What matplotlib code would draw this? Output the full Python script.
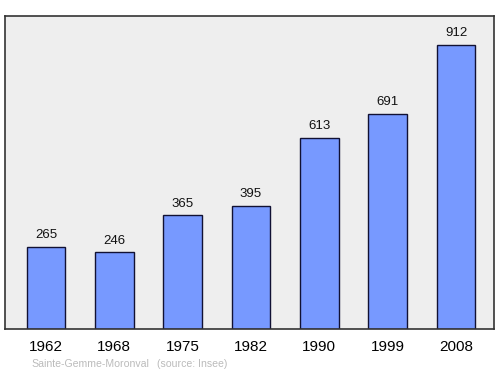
import matplotlib
matplotlib.use("Agg")
import matplotlib.pyplot as plt

years = ["1962", "1968", "1975", "1982", "1990", "1999", "2008"]
population = [265, 246, 365, 395, 613, 691, 912]
source_name = "Sainte-Gemme-Moronval"
source_note = "(source: Insee)"

plt.rcParams['font.family'] = ['Liberation Sans', 'DejaVu Sans']

fig = plt.figure(figsize=(5.0, 3.74), dpi=100)
W, H = 500, 374
ax = fig.add_axes([5 / W, 1 - 329 / H, 489 / W, 313 / H])
ax.set_facecolor('#eeeeee')
x = list(range(len(years)))
ax.bar(x, population, width=0.57, color='#7799ff', edgecolor='#111133', linewidth=1.0, zorder=2)
for xi, v in zip(x, population):
    ax.text(xi, v + 19, str(v), ha='center', va='bottom', fontsize=9.5, color='#111111')
ax.set_xlim(-0.6, 6.556)
ax.set_ylim(0, 1006)
ax.set_yticks([])
ax.set_xticks(x)
ax.set_xticklabels(years, fontsize=11)
ax.tick_params(axis='x', length=0, pad=8)
for s in ax.spines.values():
    s.set_color('#333333')
    s.set_linewidth(1.2)

fig.text(31 / W, 1 - 364 / H, source_name, fontsize=7.6, color='#bbbbbb', va='center')
fig.text(157 / W, 1 - 364 / H, source_note, fontsize=7.6, color='#bbbbbb', va='center')

fig.savefig('out.png', dpi=100)
